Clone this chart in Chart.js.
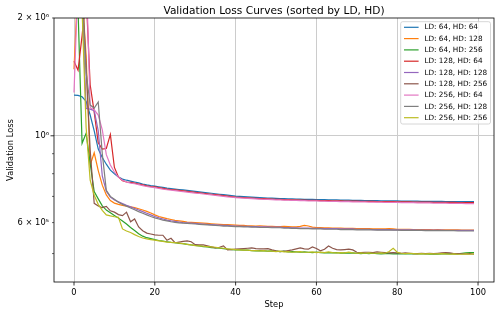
<!DOCTYPE html>
<html><head><meta charset="utf-8">
<script src="https://cdn.jsdelivr.net/npm/chart.js@4.4.0/dist/chart.umd.min.js"></script>
<style>html,body{margin:0;padding:0;background:#fff;overflow:hidden}#wrap{width:500px;height:315px;position:relative}</style>
</head><body><div id="wrap"><canvas id="c" width="500" height="315"></canvas></div>
<script>
// ---------------- data ----------------
const chartTitle = 'Validation Loss Curves (sorted by LD, HD)';
const xLabel = 'Step';
const yLabel = 'Validation Loss';
const steps = [0,1,2,3,4,5,6,7,8,9,10,11,12,13,14,15,16,17,18,19,20,21,22,23,24,25,26,27,28,29,30,31,32,33,34,35,36,37,38,39,40,41,42,43,44,45,46,47,48,49,50,51,52,53,54,55,56,57,58,59,60,61,62,63,64,65,66,67,68,69,70,71,72,73,74,75,76,77,78,79,80,81,82,83,84,85,86,87,88,89,90,91,92,93,94,95,96,97,98,99];
const seriesNames = ['LD: 64, HD: 64','LD: 64, HD: 128','LD: 64, HD: 256','LD: 128, HD: 64','LD: 128, HD: 128','LD: 128, HD: 256','LD: 256, HD: 64','LD: 256, HD: 128','LD: 256, HD: 256'];
const UNIT = 1000; // values below are in thousands
const ld64hd64 = [1271,1268,1258,1225,1130,1030,925,880,846,817,
 800,785,775,770,766,762,758,753,749,746,
 744,741,738,735,733,731,729,727,725,723,
 721,719,717,715,713,711,709,707,705,703,
 701,700,699,698,697,696,695,694,693,693,
 692,691,691,690,690,689,689,688,688,688,
 687,687,687,686,686,686,685,685,685,684,
 684,684,683,683,683,683,682,682,682,682,
 682,681,681,681,681,681,680,680,680,680,
 680,680,679,679,679,679,679,679,679,679];
const ld64hd128 = [1480,2500,2300,1600,842,905,815,748,706,683,
 673,668,664,661,658,655,651,646,641,635,
 628,622,618,614,611,608,606,604,602,601,
 600,599,598,597,596,595,594,593,593,592,
 591,590,590,589,589,588,589,588,587,587,
 586,586,587,586,585,585,587,590,588,584,
 583,583,582,582,581,581,581,580,580,580,
 579,579,579,579,578,578,578,578,579,578,
 577,577,577,577,576,576,576,576,576,575,
 576,575,575,575,575,575,574,574,574,574];
const ld64hd256 = [2600,2100,957,1015,850,720,690,662,646,636,
 626,616,606,595,583,573,562,554,549,546,
 543,540,538,536,534,533,531,530,528,526,
 525,523,521,520,518,517,516,515,513,512,
 511,511,510,510,509,508,509,508,507,508,
 507,506,507,505,506,505,504,505,504,503,
 504,503,502,503,502,503,501,502,501,502,
 501,500,501,500,501,500,499,500,500,499,
 500,499,500,499,500,499,500,499,498,499,
 498,499,500,499,500,499,501,502,503,503];
const ld128hd64 = [1550,1470,1800,2300,1350,1150,960,925,928,1008,
 830,785,768,762,760,757,753,749,745,742,
 740,737,734,731,729,727,725,723,721,719,
 717,715,713,711,709,707,705,703,701,699,
 697,696,695,694,693,692,691,691,690,689,
 688,688,687,687,686,686,685,685,684,684,
 684,683,683,683,682,682,682,681,681,681,
 681,680,680,680,680,679,679,679,679,679,
 678,678,678,678,677,677,677,677,677,676,
 676,676,676,676,676,675,675,675,675,675];
const ld128hd128 = [2600,2400,2200,1175,1170,1160,1030,790,722,697,
 685,678,671,664,658,652,646,640,634,628,
 622,617,613,609,606,604,602,600,599,598,
 597,596,595,594,593,592,591,590,590,589,
 588,588,587,587,586,586,585,585,585,584,
 584,584,583,583,582,582,581,581,581,580,
 580,580,579,579,579,579,578,578,578,578,
 577,577,577,577,576,576,576,576,576,575,
 575,575,575,575,575,574,574,574,574,574,
 574,574,573,573,573,573,573,573,573,573];
const ld128hd256 = [3300,2800,2400,1500,920,672,662,655,660,643,
 638,629,625,638,603,613,585,572,564,561,
 558,557,557,541,547,533,535,537,539,536,
 527,526,526,523,520,517,519,523,511,512,
 513,514,515,516,517,515,514,514,515,511,
 508,506,507,509,511,514,517,514,513,520,
 515,508,513,523,516,512,511,512,513,511,
 504,503,504,504,503,505,504,503,502,503,
 502,501,502,501,500,500,501,500,501,500,
 501,502,503,502,500,500,499,499,500,498];
const ld256hd64 = [1290,2500,2900,2700,1180,1165,1130,1035,895,842,
 808,784,770,762,757,754,750,746,742,739,
 737,734,731,728,726,724,722,720,718,716,
 714,712,710,708,706,704,702,700,698,697,
 695,694,693,692,691,690,689,688,688,687,
 686,686,685,685,684,684,683,683,682,682,
 682,681,681,680,680,680,679,679,679,678,
 678,678,678,677,677,677,677,676,676,676,
 676,675,675,675,675,674,674,674,674,673,
 673,673,673,672,672,672,672,671,671,671];
const ld256hd128 = [3000,2700,2300,1450,1198,1177,1220,900,725,700,
 688,676,668,661,654,647,640,634,628,622,
 617,613,609,606,603,601,599,598,597,596,
 595,594,593,592,591,590,589,588,588,587,
 586,586,585,585,584,584,583,583,583,582,
 582,582,581,581,580,580,579,579,579,578,
 578,578,577,577,577,577,576,576,576,576,
 575,575,575,575,575,574,574,574,574,574,
 574,573,573,573,573,573,573,572,572,572,
 572,572,572,572,572,571,571,571,571,571];
const ld256hd256 = [3200,2600,2100,1050,770,705,668,645,628,624,
 621,619,578,571,566,559,553,548,545,543,
 541,539,537,535,534,533,532,530,528,526,
 524,523,522,521,520,519,517,516,514,513,
 512,511,510,510,509,509,508,509,507,507,
 506,507,505,506,504,505,506,504,504,505,
 503,504,503,505,503,502,503,502,504,502,
 501,502,501,502,501,501,502,501,506,516,
 504,501,500,501,500,499,500,499,500,499,
 499,500,499,498,499,498,498,499,498,499];
const seriesValues = [ld64hd64, ld64hd128, ld64hd256, ld128hd64, ld128hd128, ld128hd256, ld256hd64, ld256hd128, ld256hd256];
const xTicks = [0,20,40,60,80,100];
const yTicks = [500000,600000,700000,800000,900000,1000000,2000000];
const yTickLabels = ['', '6 × 10⁵', '', '', '', '10⁶', '2 × 10⁶'];

// ---------------- styles ----------------
const colors = ['#1f77b4','#ff7f0e','#2ca02c','#d62728','#9467bd','#8c564b','#e377c2','#7f7f7f','#bcbd22'];
const FONT = '"DejaVu Sans", sans-serif';
const gridColor = '#cccccc';

const datasets = seriesValues.map((vals, i) => ({
  label: seriesNames[i],
  data: steps.map((s, k) => ({x: s, y: vals[k] * UNIT})),
  borderColor: colors[i],
  backgroundColor: colors[i],
  borderWidth: 1.2,
  pointRadius: 0,
  tension: 0,
  fill: false,
  order: seriesValues.length - i
}));

const deco = {
  id: 'deco',
  afterDatasetsDraw(chart) {
    const {ctx, chartArea: a, scales: {x, y}} = chart;
    ctx.save();
    // spines
    ctx.strokeStyle = '#000';
    ctx.lineWidth = 0.8;
    ctx.strokeRect(a.left, a.top, a.right - a.left, a.bottom - a.top);
    // tick marks
    ctx.beginPath();
    xTicks.forEach(v => { const p = x.getPixelForValue(v); ctx.moveTo(p, a.bottom); ctx.lineTo(p, a.bottom + 3.5); });
    ctx.stroke();
    yTicks.forEach(v => {
      const p = y.getPixelForValue(v);
      const major = v === 1000000;
      ctx.lineWidth = major ? 0.8 : 0.6;
      ctx.beginPath(); ctx.moveTo(a.left, p); ctx.lineTo(a.left - (major ? 3.5 : 2), p); ctx.stroke();
    });
    // titles
    ctx.fillStyle = '#000';
    ctx.textAlign = 'center';
    ctx.textBaseline = 'alphabetic';
    ctx.font = '10.6px ' + FONT;
    ctx.fillText(chartTitle, (a.left + a.right) / 2, 13.5);
    ctx.font = '8.3px ' + FONT;
    ctx.fillText(xLabel, (a.left + a.right) / 2, 306.7);
    ctx.save();
    ctx.translate(12.5, (a.top + a.bottom) / 2);
    ctx.rotate(-Math.PI / 2);
    ctx.fillText(yLabel, 0, 0);
    ctx.restore();
    // legend
    const lx = 400.7, ly = 21.7, lw = 89.8, lh = 102.3;
    ctx.beginPath();
    if (ctx.roundRect) ctx.roundRect(lx, ly, lw, lh, 2); else ctx.rect(lx, ly, lw, lh);
    ctx.fillStyle = 'rgba(255,255,255,0.8)';
    ctx.fill();
    ctx.strokeStyle = '#cccccc';
    ctx.lineWidth = 0.8;
    ctx.stroke();
    ctx.font = '7.3px ' + FONT;
    ctx.textAlign = 'left';
    ctx.textBaseline = 'middle';
    seriesNames.forEach((n, i) => {
      const ry = 27.3 + i * 11.3;
      ctx.strokeStyle = colors[i];
      ctx.lineWidth = 1.2;
      ctx.beginPath(); ctx.moveTo(404, ry); ctx.lineTo(418.6, ry); ctx.stroke();
      ctx.fillStyle = '#000';
      ctx.fillText(n, 424.4, ry + 0.3);
    });
    ctx.restore();
  }
};

new Chart(document.getElementById('c'), {
  type: 'line',
  data: {datasets},
  options: {
    responsive: false,
    animation: false,
    devicePixelRatio: 1,
    layout: {padding: {top: 18, right: 6, left: 0, bottom: 0}},
    plugins: {legend: {display: false}, title: {display: false}, tooltip: {enabled: false}},
    scales: {
      x: {
        type: 'linear', min: -4.95, max: 103.95,
        afterBuildTicks: s => { s.ticks = xTicks.map(v => ({value: v})); },
        ticks: {font: {family: FONT, size: 8.3}, color: '#000', padding: 6, maxRotation: 0, autoSkip: false, callback: v => String(v)},
        grid: {color: gridColor, lineWidth: 1, drawTicks: false},
        border: {display: false},
        afterFit: s => { s.height = 33; }
      },
      y: {
        type: 'logarithmic', min: 423000, max: 2000000,
        afterBuildTicks: s => { s.ticks = yTicks.map(v => ({value: v})); },
        ticks: {font: {family: FONT, size: 8.3}, color: '#000', padding: 5, autoSkip: false,
          callback: v => { const i = yTicks.indexOf(v); return i >= 0 ? yTickLabels[i] : ''; }},
        grid: {color: c => (c.tick && c.tick.value === 1000000) ? gridColor : 'rgba(0,0,0,0)', lineWidth: 1, drawTicks: false},
        border: {display: false},
        afterFit: s => { s.width = 54; }
      }
    }
  },
  plugins: [deco]
});
</script></body></html>
